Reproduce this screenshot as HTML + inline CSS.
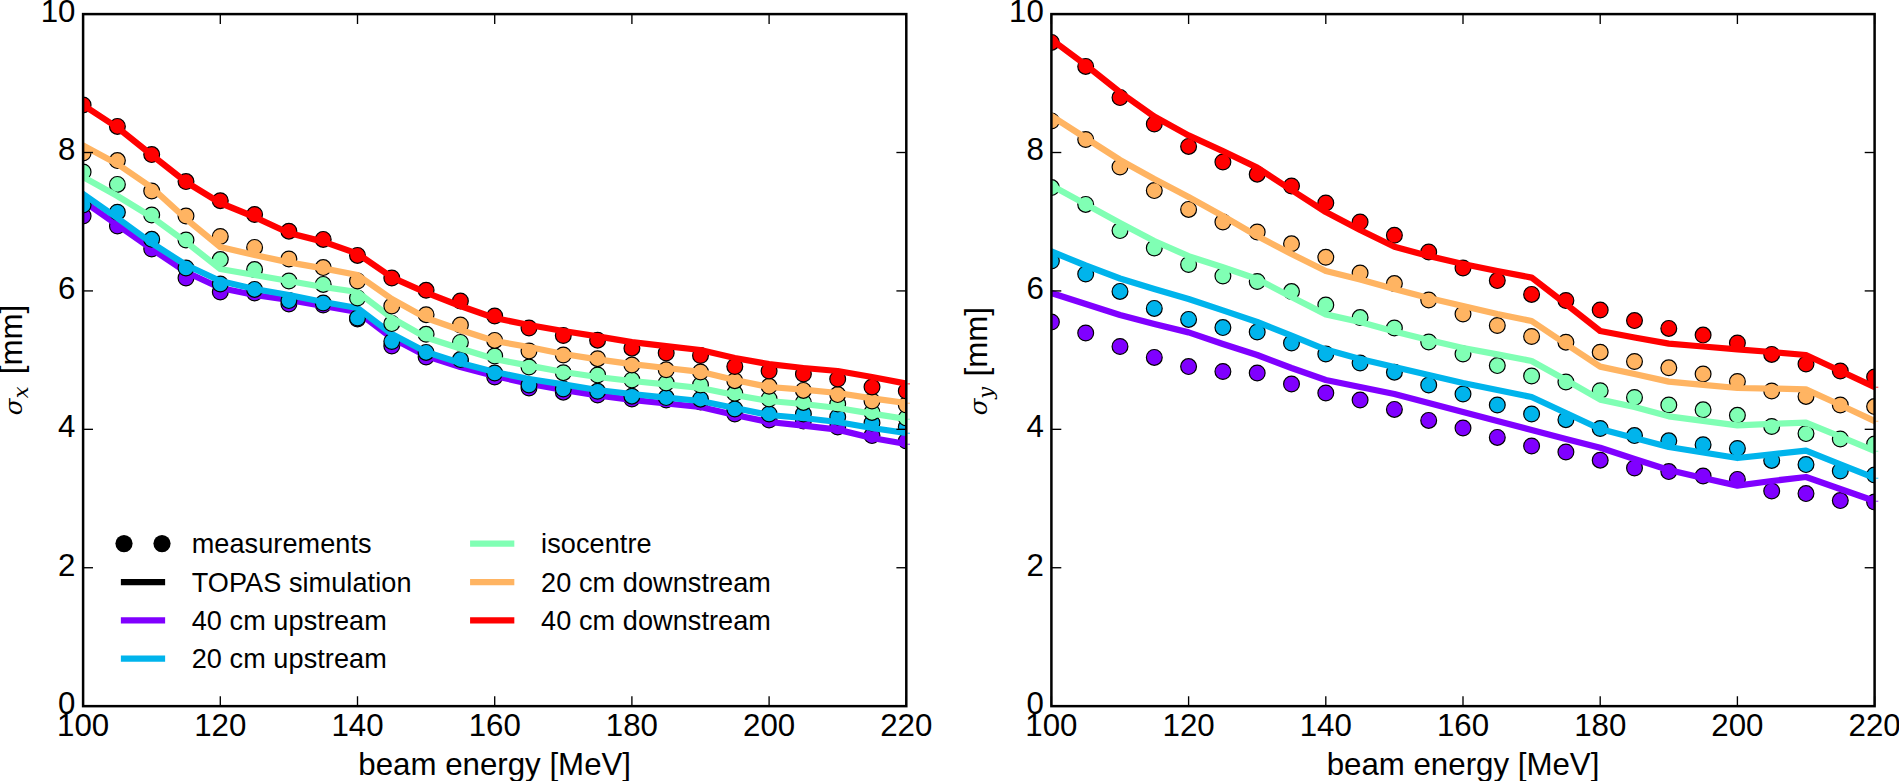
<!DOCTYPE html>
<html lang="en"><head><meta charset="utf-8"><title>Beam spot size vs beam energy</title>
<style>html,body{margin:0;padding:0;background:#fff}body{width:1899px;height:781px;overflow:hidden}svg{display:block}text{font-family:"Liberation Sans", Arial, Helvetica, sans-serif;fill:#000}.tk{font-size:31.25px}.lg{font-size:27.08px}.mt{font-family:"DejaVu Serif","Liberation Serif",serif;font-style:italic}.ms{font-family:"Liberation Serif","DejaVu Serif",serif;font-style:italic}</style></head><body>
<svg width="1899" height="781" viewBox="0 0 1899 781">
<rect width="1899" height="781" fill="#fff"/>
<defs>
<clipPath id="c0"><rect x="83.1" y="14.1" width="823.2" height="692.05"/></clipPath>
<clipPath id="c1"><rect x="1051.4" y="14.1" width="823.2" height="692.05"/></clipPath>
</defs>
<g clip-path="url(#c0)">
<g fill="#8000ff" stroke="#000" stroke-width="1.2">
<circle cx="83.1" cy="216" r="7.9"/>
<circle cx="117.4" cy="226" r="7.9"/>
<circle cx="151.7" cy="249" r="7.9"/>
<circle cx="186" cy="278" r="7.9"/>
<circle cx="220.3" cy="292" r="7.9"/>
<circle cx="254.6" cy="293" r="7.9"/>
<circle cx="288.9" cy="304" r="7.9"/>
<circle cx="323.2" cy="305" r="7.9"/>
<circle cx="357.5" cy="319" r="7.9"/>
<circle cx="391.8" cy="346" r="7.9"/>
<circle cx="426.1" cy="357" r="7.9"/>
<circle cx="460.4" cy="361" r="7.9"/>
<circle cx="494.7" cy="377" r="7.9"/>
<circle cx="529" cy="388" r="7.9"/>
<circle cx="563.3" cy="392.2" r="7.9"/>
<circle cx="597.6" cy="395" r="7.9"/>
<circle cx="631.9" cy="399" r="7.9"/>
<circle cx="666.2" cy="400" r="7.9"/>
<circle cx="700.5" cy="402" r="7.9"/>
<circle cx="734.8" cy="414" r="7.9"/>
<circle cx="769.1" cy="420" r="7.9"/>
<circle cx="803.4" cy="421" r="7.9"/>
<circle cx="837.7" cy="427" r="7.9"/>
<circle cx="872" cy="435.6" r="7.9"/>
<circle cx="906.3" cy="441" r="7.9"/>
</g>
<polyline points="83.1,201 117.4,225 151.7,249 186,272 220.3,288 254.6,295 288.9,300 323.2,306 357.5,312 391.8,338 426.1,356 460.4,367 494.7,376 529,383.6 563.3,390 597.6,395.3 631.9,399.8 666.2,403.5 700.5,407 734.8,415 769.1,422 803.4,425.6 837.7,429.6 872,438 906.3,444" fill="none" stroke="#8000ff" stroke-width="6.25" stroke-linejoin="round" stroke-linecap="square"/>
<g fill="#00b4ec" stroke="#000" stroke-width="1.2">
<circle cx="83.1" cy="205" r="7.9"/>
<circle cx="117.4" cy="212.2" r="7.9"/>
<circle cx="151.7" cy="239.3" r="7.9"/>
<circle cx="186" cy="268" r="7.9"/>
<circle cx="220.3" cy="284" r="7.9"/>
<circle cx="254.6" cy="289.4" r="7.9"/>
<circle cx="288.9" cy="300.6" r="7.9"/>
<circle cx="323.2" cy="303" r="7.9"/>
<circle cx="357.5" cy="318" r="7.9"/>
<circle cx="391.8" cy="341.5" r="7.9"/>
<circle cx="426.1" cy="352.4" r="7.9"/>
<circle cx="460.4" cy="359.6" r="7.9"/>
<circle cx="494.7" cy="373" r="7.9"/>
<circle cx="529" cy="385" r="7.9"/>
<circle cx="563.3" cy="389" r="7.9"/>
<circle cx="597.6" cy="391.3" r="7.9"/>
<circle cx="631.9" cy="396.2" r="7.9"/>
<circle cx="666.2" cy="397.6" r="7.9"/>
<circle cx="700.5" cy="399.2" r="7.9"/>
<circle cx="734.8" cy="409" r="7.9"/>
<circle cx="769.1" cy="414" r="7.9"/>
<circle cx="803.4" cy="414" r="7.9"/>
<circle cx="837.7" cy="417" r="7.9"/>
<circle cx="872" cy="423" r="7.9"/>
<circle cx="906.3" cy="427" r="7.9"/>
</g>
<polyline points="83.1,194 117.4,218 151.7,243 186,265 220.3,281 254.6,289 288.9,295 323.2,302 357.5,308 391.8,334 426.1,352 460.4,363 494.7,372 529,379 563.3,384.4 597.6,390 631.9,394 666.2,397.6 700.5,401 734.8,408 769.1,415 803.4,418 837.7,422 872,428 906.3,433" fill="none" stroke="#00b4ec" stroke-width="6.25" stroke-linejoin="round" stroke-linecap="square"/>
<g fill="#80ffb4" stroke="#000" stroke-width="1.2">
<circle cx="83.1" cy="172" r="7.9"/>
<circle cx="117.4" cy="184.4" r="7.9"/>
<circle cx="151.7" cy="215" r="7.9"/>
<circle cx="186" cy="240" r="7.9"/>
<circle cx="220.3" cy="259.6" r="7.9"/>
<circle cx="254.6" cy="269.6" r="7.9"/>
<circle cx="288.9" cy="281" r="7.9"/>
<circle cx="323.2" cy="284.4" r="7.9"/>
<circle cx="357.5" cy="298" r="7.9"/>
<circle cx="391.8" cy="323.6" r="7.9"/>
<circle cx="426.1" cy="334.3" r="7.9"/>
<circle cx="460.4" cy="342.4" r="7.9"/>
<circle cx="494.7" cy="356" r="7.9"/>
<circle cx="529" cy="367" r="7.9"/>
<circle cx="563.3" cy="372.7" r="7.9"/>
<circle cx="597.6" cy="375" r="7.9"/>
<circle cx="631.9" cy="380" r="7.9"/>
<circle cx="666.2" cy="383" r="7.9"/>
<circle cx="700.5" cy="385" r="7.9"/>
<circle cx="734.8" cy="393.3" r="7.9"/>
<circle cx="769.1" cy="399" r="7.9"/>
<circle cx="803.4" cy="402.4" r="7.9"/>
<circle cx="837.7" cy="404" r="7.9"/>
<circle cx="872" cy="412.4" r="7.9"/>
<circle cx="906.3" cy="418" r="7.9"/>
</g>
<polyline points="83.1,177 117.4,196 151.7,217 186,242 220.3,269 254.6,275 288.9,281 323.2,287 357.5,292 391.8,318 426.1,337.5 460.4,348.4 494.7,359 529,365.6 563.3,372 597.6,377 631.9,381 666.2,384.4 700.5,388 734.8,395 769.1,401 803.4,404 837.7,408 872,413.6 906.3,419" fill="none" stroke="#80ffb4" stroke-width="6.25" stroke-linejoin="round" stroke-linecap="square"/>
<g fill="#ffb462" stroke="#000" stroke-width="1.2">
<circle cx="83.1" cy="153" r="7.9"/>
<circle cx="117.4" cy="160.6" r="7.9"/>
<circle cx="151.7" cy="191" r="7.9"/>
<circle cx="186" cy="216" r="7.9"/>
<circle cx="220.3" cy="236.5" r="7.9"/>
<circle cx="254.6" cy="247.4" r="7.9"/>
<circle cx="288.9" cy="259" r="7.9"/>
<circle cx="323.2" cy="267.6" r="7.9"/>
<circle cx="357.5" cy="281" r="7.9"/>
<circle cx="391.8" cy="306" r="7.9"/>
<circle cx="426.1" cy="314.7" r="7.9"/>
<circle cx="460.4" cy="325" r="7.9"/>
<circle cx="494.7" cy="340.4" r="7.9"/>
<circle cx="529" cy="351" r="7.9"/>
<circle cx="563.3" cy="355" r="7.9"/>
<circle cx="597.6" cy="358.7" r="7.9"/>
<circle cx="631.9" cy="365" r="7.9"/>
<circle cx="666.2" cy="369.8" r="7.9"/>
<circle cx="700.5" cy="372" r="7.9"/>
<circle cx="734.8" cy="380.7" r="7.9"/>
<circle cx="769.1" cy="386.3" r="7.9"/>
<circle cx="803.4" cy="390.4" r="7.9"/>
<circle cx="837.7" cy="394.6" r="7.9"/>
<circle cx="872" cy="401" r="7.9"/>
<circle cx="906.3" cy="405" r="7.9"/>
</g>
<polyline points="83.1,145.6 117.4,164 151.7,187.5 186,218.8 220.3,247 254.6,255 288.9,262.4 323.2,268.4 357.5,275 391.8,299 426.1,318 460.4,330 494.7,341 529,347 563.3,354 597.6,359.3 631.9,364.2 666.2,368 700.5,371.8 734.8,380 769.1,387 803.4,389.6 837.7,393 872,398.4 906.3,403" fill="none" stroke="#ffb462" stroke-width="6.25" stroke-linejoin="round" stroke-linecap="square"/>
<g fill="#ff0000" stroke="#000" stroke-width="1.2">
<circle cx="83.1" cy="105" r="7.9"/>
<circle cx="117.4" cy="126.4" r="7.9"/>
<circle cx="151.7" cy="154.6" r="7.9"/>
<circle cx="186" cy="181.6" r="7.9"/>
<circle cx="220.3" cy="200.7" r="7.9"/>
<circle cx="254.6" cy="214.5" r="7.9"/>
<circle cx="288.9" cy="231.2" r="7.9"/>
<circle cx="323.2" cy="239.4" r="7.9"/>
<circle cx="357.5" cy="255.4" r="7.9"/>
<circle cx="391.8" cy="278" r="7.9"/>
<circle cx="426.1" cy="290.3" r="7.9"/>
<circle cx="460.4" cy="301" r="7.9"/>
<circle cx="494.7" cy="316" r="7.9"/>
<circle cx="529" cy="328" r="7.9"/>
<circle cx="563.3" cy="335.5" r="7.9"/>
<circle cx="597.6" cy="340.2" r="7.9"/>
<circle cx="631.9" cy="348.2" r="7.9"/>
<circle cx="666.2" cy="353" r="7.9"/>
<circle cx="700.5" cy="355.5" r="7.9"/>
<circle cx="734.8" cy="366.5" r="7.9"/>
<circle cx="769.1" cy="371" r="7.9"/>
<circle cx="803.4" cy="374" r="7.9"/>
<circle cx="837.7" cy="379" r="7.9"/>
<circle cx="872" cy="387" r="7.9"/>
<circle cx="906.3" cy="391" r="7.9"/>
</g>
<polyline points="83.1,105 117.4,127.5 151.7,155 186,182 220.3,203 254.6,217 288.9,233 323.2,241.6 357.5,253.6 391.8,277.3 426.1,292.6 460.4,306 494.7,318 529,325 563.3,331 597.6,336.4 631.9,342.2 666.2,346.2 700.5,350 734.8,358 769.1,364.2 803.4,368 837.7,371 872,377 906.3,383.6" fill="none" stroke="#ff0000" stroke-width="6.25" stroke-linejoin="round" stroke-linecap="square"/>
</g>
<rect x="907.4" y="443.7" width="2.6" height="1.1" fill="#8000ff" opacity="0.75"/>
<rect x="907.4" y="432.7" width="2.6" height="1.1" fill="#00b4ec" opacity="0.75"/>
<rect x="907.4" y="418.7" width="2.6" height="1.1" fill="#80ffb4" opacity="0.75"/>
<rect x="907.4" y="402.7" width="2.6" height="1.1" fill="#ffb462" opacity="0.75"/>
<rect x="907.4" y="383.3" width="2.6" height="1.1" fill="#ff0000" opacity="0.75"/>
<g stroke="#000" stroke-width="1.35">
<line x1="83.1" y1="706.15" x2="83.1" y2="696.25"/>
<line x1="83.1" y1="14.1" x2="83.1" y2="24"/>
<line x1="220.3" y1="706.15" x2="220.3" y2="696.25"/>
<line x1="220.3" y1="14.1" x2="220.3" y2="24"/>
<line x1="357.5" y1="706.15" x2="357.5" y2="696.25"/>
<line x1="357.5" y1="14.1" x2="357.5" y2="24"/>
<line x1="494.7" y1="706.15" x2="494.7" y2="696.25"/>
<line x1="494.7" y1="14.1" x2="494.7" y2="24"/>
<line x1="631.9" y1="706.15" x2="631.9" y2="696.25"/>
<line x1="631.9" y1="14.1" x2="631.9" y2="24"/>
<line x1="769.1" y1="706.15" x2="769.1" y2="696.25"/>
<line x1="769.1" y1="14.1" x2="769.1" y2="24"/>
<line x1="906.3" y1="706.15" x2="906.3" y2="696.25"/>
<line x1="906.3" y1="14.1" x2="906.3" y2="24"/>
<line x1="83.1" y1="706.15" x2="93" y2="706.15"/>
<line x1="906.3" y1="706.15" x2="896.4" y2="706.15"/>
<line x1="83.1" y1="567.74" x2="93" y2="567.74"/>
<line x1="906.3" y1="567.74" x2="896.4" y2="567.74"/>
<line x1="83.1" y1="429.33" x2="93" y2="429.33"/>
<line x1="906.3" y1="429.33" x2="896.4" y2="429.33"/>
<line x1="83.1" y1="290.92" x2="93" y2="290.92"/>
<line x1="906.3" y1="290.92" x2="896.4" y2="290.92"/>
<line x1="83.1" y1="152.51" x2="93" y2="152.51"/>
<line x1="906.3" y1="152.51" x2="896.4" y2="152.51"/>
<line x1="83.1" y1="14.1" x2="93" y2="14.1"/>
<line x1="906.3" y1="14.1" x2="896.4" y2="14.1"/>
</g>
<rect x="83.1" y="14.1" width="823.2" height="692.05" fill="none" stroke="#000" stroke-width="2.5"/>
<g class="tk" text-anchor="middle">
<text x="83.1" y="736.3">100</text>
<text x="220.3" y="736.3">120</text>
<text x="357.5" y="736.3">140</text>
<text x="494.7" y="736.3">160</text>
<text x="631.9" y="736.3">180</text>
<text x="769.1" y="736.3">200</text>
<text x="906.3" y="736.3">220</text>
</g>
<g class="tk" text-anchor="end">
<text x="75.5" y="713.95">0</text>
<text x="75.5" y="575.54">2</text>
<text x="75.5" y="437.13">4</text>
<text x="75.5" y="298.72">6</text>
<text x="75.5" y="160.31">8</text>
<text x="75.5" y="21.9">10</text>
</g>
<text class="tk" text-anchor="middle" x="494.7" y="774.7">beam energy [MeV]</text>
<text class="tk" transform="translate(22.2,374.3) rotate(-90)">[mm]</text>
<text class="mt" font-size="24.6" transform="translate(22.2,415.3) rotate(-90)">σ</text>
<text class="mt" font-size="21" transform="translate(28.2,398.2) rotate(-90)">x</text>
<g clip-path="url(#c1)">
<g fill="#8000ff" stroke="#000" stroke-width="1.2">
<circle cx="1051.4" cy="322" r="7.9"/>
<circle cx="1085.7" cy="333" r="7.9"/>
<circle cx="1120" cy="346.5" r="7.9"/>
<circle cx="1154.3" cy="357.4" r="7.9"/>
<circle cx="1188.6" cy="366.6" r="7.9"/>
<circle cx="1222.9" cy="371.5" r="7.9"/>
<circle cx="1257.2" cy="373" r="7.9"/>
<circle cx="1291.5" cy="384" r="7.9"/>
<circle cx="1325.8" cy="393" r="7.9"/>
<circle cx="1360.1" cy="400" r="7.9"/>
<circle cx="1394.4" cy="409.4" r="7.9"/>
<circle cx="1428.7" cy="420.4" r="7.9"/>
<circle cx="1463" cy="428" r="7.9"/>
<circle cx="1497.3" cy="437.4" r="7.9"/>
<circle cx="1531.6" cy="446" r="7.9"/>
<circle cx="1565.9" cy="452" r="7.9"/>
<circle cx="1600.2" cy="460.2" r="7.9"/>
<circle cx="1634.5" cy="468" r="7.9"/>
<circle cx="1668.8" cy="471.6" r="7.9"/>
<circle cx="1703.1" cy="476" r="7.9"/>
<circle cx="1737.4" cy="479.4" r="7.9"/>
<circle cx="1771.7" cy="491" r="7.9"/>
<circle cx="1806" cy="493.6" r="7.9"/>
<circle cx="1840.3" cy="500.6" r="7.9"/>
<circle cx="1874.6" cy="502" r="7.9"/>
</g>
<polyline points="1051.4,293 1085.7,304 1120,315 1154.3,324 1188.6,332.4 1222.9,344 1257.2,355 1291.5,368 1325.8,380 1360.1,387 1394.4,394 1428.7,403 1463,412 1497.3,421 1531.6,430 1565.9,439 1600.2,447.8 1634.5,459 1668.8,470 1703.1,478 1737.4,485.6 1771.7,481 1806,477 1840.3,489 1874.6,501" fill="none" stroke="#8000ff" stroke-width="6.25" stroke-linejoin="round" stroke-linecap="square"/>
<g fill="#00b4ec" stroke="#000" stroke-width="1.2">
<circle cx="1051.4" cy="261" r="7.9"/>
<circle cx="1085.7" cy="274" r="7.9"/>
<circle cx="1120" cy="291.4" r="7.9"/>
<circle cx="1154.3" cy="308.4" r="7.9"/>
<circle cx="1188.6" cy="319.4" r="7.9"/>
<circle cx="1222.9" cy="327.6" r="7.9"/>
<circle cx="1257.2" cy="332" r="7.9"/>
<circle cx="1291.5" cy="343" r="7.9"/>
<circle cx="1325.8" cy="354" r="7.9"/>
<circle cx="1360.1" cy="363" r="7.9"/>
<circle cx="1394.4" cy="372.2" r="7.9"/>
<circle cx="1428.7" cy="385" r="7.9"/>
<circle cx="1463" cy="394" r="7.9"/>
<circle cx="1497.3" cy="405" r="7.9"/>
<circle cx="1531.6" cy="414" r="7.9"/>
<circle cx="1565.9" cy="419.7" r="7.9"/>
<circle cx="1600.2" cy="428.5" r="7.9"/>
<circle cx="1634.5" cy="435.6" r="7.9"/>
<circle cx="1668.8" cy="440.8" r="7.9"/>
<circle cx="1703.1" cy="444.7" r="7.9"/>
<circle cx="1737.4" cy="448.5" r="7.9"/>
<circle cx="1771.7" cy="460.4" r="7.9"/>
<circle cx="1806" cy="464.6" r="7.9"/>
<circle cx="1840.3" cy="471" r="7.9"/>
<circle cx="1874.6" cy="475" r="7.9"/>
</g>
<polyline points="1051.4,251.5 1085.7,265.5 1120,278.5 1154.3,289 1188.6,299 1222.9,310.4 1257.2,322 1291.5,335.6 1325.8,349.6 1360.1,359 1394.4,367 1428.7,375 1463,383 1497.3,390 1531.6,397 1565.9,413 1600.2,429 1634.5,438 1668.8,447 1703.1,452.5 1737.4,458 1771.7,454.4 1806,450.6 1840.3,464.4 1874.6,478" fill="none" stroke="#00b4ec" stroke-width="6.25" stroke-linejoin="round" stroke-linecap="square"/>
<g fill="#80ffb4" stroke="#000" stroke-width="1.2">
<circle cx="1051.4" cy="187.6" r="7.9"/>
<circle cx="1085.7" cy="204.4" r="7.9"/>
<circle cx="1120" cy="230.6" r="7.9"/>
<circle cx="1154.3" cy="248" r="7.9"/>
<circle cx="1188.6" cy="264.5" r="7.9"/>
<circle cx="1222.9" cy="276" r="7.9"/>
<circle cx="1257.2" cy="281.5" r="7.9"/>
<circle cx="1291.5" cy="291.6" r="7.9"/>
<circle cx="1325.8" cy="305" r="7.9"/>
<circle cx="1360.1" cy="317.6" r="7.9"/>
<circle cx="1394.4" cy="328" r="7.9"/>
<circle cx="1428.7" cy="342" r="7.9"/>
<circle cx="1463" cy="354" r="7.9"/>
<circle cx="1497.3" cy="365.6" r="7.9"/>
<circle cx="1531.6" cy="376" r="7.9"/>
<circle cx="1565.9" cy="382" r="7.9"/>
<circle cx="1600.2" cy="390.7" r="7.9"/>
<circle cx="1634.5" cy="397.5" r="7.9"/>
<circle cx="1668.8" cy="405" r="7.9"/>
<circle cx="1703.1" cy="409.8" r="7.9"/>
<circle cx="1737.4" cy="415.3" r="7.9"/>
<circle cx="1771.7" cy="426.5" r="7.9"/>
<circle cx="1806" cy="433.6" r="7.9"/>
<circle cx="1840.3" cy="439" r="7.9"/>
<circle cx="1874.6" cy="444" r="7.9"/>
</g>
<polyline points="1051.4,185.5 1085.7,204.2 1120,223 1154.3,241 1188.6,256.2 1222.9,267.2 1257.2,279 1291.5,297 1325.8,314.4 1360.1,322 1394.4,331.5 1428.7,340 1463,348 1497.3,354.4 1531.6,361 1565.9,380 1600.2,399.6 1634.5,407 1668.8,416.3 1703.1,420.8 1737.4,425.3 1771.7,423.9 1806,422.7 1840.3,436.7 1874.6,451" fill="none" stroke="#80ffb4" stroke-width="6.25" stroke-linejoin="round" stroke-linecap="square"/>
<g fill="#ffb462" stroke="#000" stroke-width="1.2">
<circle cx="1051.4" cy="121" r="7.9"/>
<circle cx="1085.7" cy="139.5" r="7.9"/>
<circle cx="1120" cy="167" r="7.9"/>
<circle cx="1154.3" cy="190.6" r="7.9"/>
<circle cx="1188.6" cy="209.4" r="7.9"/>
<circle cx="1222.9" cy="222" r="7.9"/>
<circle cx="1257.2" cy="232" r="7.9"/>
<circle cx="1291.5" cy="243.8" r="7.9"/>
<circle cx="1325.8" cy="257.3" r="7.9"/>
<circle cx="1360.1" cy="273" r="7.9"/>
<circle cx="1394.4" cy="283.6" r="7.9"/>
<circle cx="1428.7" cy="300" r="7.9"/>
<circle cx="1463" cy="314" r="7.9"/>
<circle cx="1497.3" cy="325.5" r="7.9"/>
<circle cx="1531.6" cy="336.5" r="7.9"/>
<circle cx="1565.9" cy="342.2" r="7.9"/>
<circle cx="1600.2" cy="352.2" r="7.9"/>
<circle cx="1634.5" cy="361.5" r="7.9"/>
<circle cx="1668.8" cy="367.8" r="7.9"/>
<circle cx="1703.1" cy="374" r="7.9"/>
<circle cx="1737.4" cy="381.5" r="7.9"/>
<circle cx="1771.7" cy="391" r="7.9"/>
<circle cx="1806" cy="396.4" r="7.9"/>
<circle cx="1840.3" cy="405" r="7.9"/>
<circle cx="1874.6" cy="406.6" r="7.9"/>
</g>
<polyline points="1051.4,116 1085.7,138 1120,160 1154.3,179 1188.6,197 1222.9,216 1257.2,236 1291.5,254 1325.8,271 1360.1,279.5 1394.4,289 1428.7,298 1463,306 1497.3,314 1531.6,321 1565.9,344 1600.2,366.6 1634.5,374 1668.8,381.6 1703.1,384.8 1737.4,388 1771.7,388.6 1806,389.4 1840.3,405 1874.6,421" fill="none" stroke="#ffb462" stroke-width="6.25" stroke-linejoin="round" stroke-linecap="square"/>
<g fill="#ff0000" stroke="#000" stroke-width="1.2">
<circle cx="1051.4" cy="42.4" r="7.9"/>
<circle cx="1085.7" cy="66.4" r="7.9"/>
<circle cx="1120" cy="97.6" r="7.9"/>
<circle cx="1154.3" cy="124" r="7.9"/>
<circle cx="1188.6" cy="146.4" r="7.9"/>
<circle cx="1222.9" cy="162" r="7.9"/>
<circle cx="1257.2" cy="174.2" r="7.9"/>
<circle cx="1291.5" cy="186" r="7.9"/>
<circle cx="1325.8" cy="203" r="7.9"/>
<circle cx="1360.1" cy="222" r="7.9"/>
<circle cx="1394.4" cy="235.3" r="7.9"/>
<circle cx="1428.7" cy="252" r="7.9"/>
<circle cx="1463" cy="268" r="7.9"/>
<circle cx="1497.3" cy="280.6" r="7.9"/>
<circle cx="1531.6" cy="294.4" r="7.9"/>
<circle cx="1565.9" cy="300.5" r="7.9"/>
<circle cx="1600.2" cy="310" r="7.9"/>
<circle cx="1634.5" cy="320.6" r="7.9"/>
<circle cx="1668.8" cy="328.4" r="7.9"/>
<circle cx="1703.1" cy="335.1" r="7.9"/>
<circle cx="1737.4" cy="343" r="7.9"/>
<circle cx="1771.7" cy="354.4" r="7.9"/>
<circle cx="1806" cy="364" r="7.9"/>
<circle cx="1840.3" cy="371" r="7.9"/>
<circle cx="1874.6" cy="377" r="7.9"/>
</g>
<polyline points="1051.4,39.5 1085.7,65 1120,92.2 1154.3,116.6 1188.6,135.4 1222.9,151.2 1257.2,167.6 1291.5,190 1325.8,212 1360.1,230 1394.4,246.8 1428.7,256 1463,264 1497.3,271 1531.6,277.6 1565.9,304 1600.2,331 1634.5,337.5 1668.8,343.6 1703.1,346.5 1737.4,349.3 1771.7,352 1806,355 1840.3,371 1874.6,387" fill="none" stroke="#ff0000" stroke-width="6.25" stroke-linejoin="round" stroke-linecap="square"/>
</g>
<rect x="1875.7" y="500.7" width="2.6" height="1.1" fill="#8000ff" opacity="0.75"/>
<rect x="1875.7" y="477.7" width="2.6" height="1.1" fill="#00b4ec" opacity="0.75"/>
<rect x="1875.7" y="450.7" width="2.6" height="1.1" fill="#80ffb4" opacity="0.75"/>
<rect x="1875.7" y="420.7" width="2.6" height="1.1" fill="#ffb462" opacity="0.75"/>
<rect x="1875.7" y="386.7" width="2.6" height="1.1" fill="#ff0000" opacity="0.75"/>
<g stroke="#000" stroke-width="1.35">
<line x1="1051.4" y1="706.15" x2="1051.4" y2="696.25"/>
<line x1="1051.4" y1="14.1" x2="1051.4" y2="24"/>
<line x1="1188.6" y1="706.15" x2="1188.6" y2="696.25"/>
<line x1="1188.6" y1="14.1" x2="1188.6" y2="24"/>
<line x1="1325.8" y1="706.15" x2="1325.8" y2="696.25"/>
<line x1="1325.8" y1="14.1" x2="1325.8" y2="24"/>
<line x1="1463" y1="706.15" x2="1463" y2="696.25"/>
<line x1="1463" y1="14.1" x2="1463" y2="24"/>
<line x1="1600.2" y1="706.15" x2="1600.2" y2="696.25"/>
<line x1="1600.2" y1="14.1" x2="1600.2" y2="24"/>
<line x1="1737.4" y1="706.15" x2="1737.4" y2="696.25"/>
<line x1="1737.4" y1="14.1" x2="1737.4" y2="24"/>
<line x1="1874.6" y1="706.15" x2="1874.6" y2="696.25"/>
<line x1="1874.6" y1="14.1" x2="1874.6" y2="24"/>
<line x1="1051.4" y1="706.15" x2="1061.3" y2="706.15"/>
<line x1="1874.6" y1="706.15" x2="1864.7" y2="706.15"/>
<line x1="1051.4" y1="567.74" x2="1061.3" y2="567.74"/>
<line x1="1874.6" y1="567.74" x2="1864.7" y2="567.74"/>
<line x1="1051.4" y1="429.33" x2="1061.3" y2="429.33"/>
<line x1="1874.6" y1="429.33" x2="1864.7" y2="429.33"/>
<line x1="1051.4" y1="290.92" x2="1061.3" y2="290.92"/>
<line x1="1874.6" y1="290.92" x2="1864.7" y2="290.92"/>
<line x1="1051.4" y1="152.51" x2="1061.3" y2="152.51"/>
<line x1="1874.6" y1="152.51" x2="1864.7" y2="152.51"/>
<line x1="1051.4" y1="14.1" x2="1061.3" y2="14.1"/>
<line x1="1874.6" y1="14.1" x2="1864.7" y2="14.1"/>
</g>
<rect x="1051.4" y="14.1" width="823.2" height="692.05" fill="none" stroke="#000" stroke-width="2.5"/>
<g class="tk" text-anchor="middle">
<text x="1051.4" y="736.3">100</text>
<text x="1188.6" y="736.3">120</text>
<text x="1325.8" y="736.3">140</text>
<text x="1463" y="736.3">160</text>
<text x="1600.2" y="736.3">180</text>
<text x="1737.4" y="736.3">200</text>
<text x="1874.6" y="736.3">220</text>
</g>
<g class="tk" text-anchor="end">
<text x="1043.8" y="713.95">0</text>
<text x="1043.8" y="575.54">2</text>
<text x="1043.8" y="437.13">4</text>
<text x="1043.8" y="298.72">6</text>
<text x="1043.8" y="160.31">8</text>
<text x="1043.8" y="21.9">10</text>
</g>
<text class="tk" text-anchor="middle" x="1463" y="774.7">beam energy [MeV]</text>
<text class="tk" transform="translate(986.6,376.4) rotate(-90)">[mm]</text>
<text class="mt" font-size="24.6" transform="translate(986.6,415.3) rotate(-90)">σ</text>
<text class="mt" font-size="21" transform="translate(992.6,398.8) rotate(-90)">y</text>
<g>
<circle cx="124" cy="543.6" r="8.6" fill="#000"/><circle cx="162" cy="543.6" r="8.6" fill="#000"/>
<line x1="124" y1="582" x2="162" y2="582" stroke="#000" stroke-width="6.25" stroke-linecap="square"/>
<line x1="124" y1="620.4" x2="162" y2="620.4" stroke="#8000ff" stroke-width="6.25" stroke-linecap="square"/>
<line x1="124" y1="658.7" x2="162" y2="658.7" stroke="#00b4ec" stroke-width="6.25" stroke-linecap="square"/>
<line x1="473.2" y1="543.6" x2="511.2" y2="543.6" stroke="#80ffb4" stroke-width="6.25" stroke-linecap="square"/>
<line x1="473.2" y1="582" x2="511.2" y2="582" stroke="#ffb462" stroke-width="6.25" stroke-linecap="square"/>
<line x1="473.2" y1="620.4" x2="511.2" y2="620.4" stroke="#ff0000" stroke-width="6.25" stroke-linecap="square"/>
</g>
<g class="lg" letter-spacing="0.07">
<text x="191.7" y="553.1">measurements</text>
<text x="191.7" y="591.5">TOPAS simulation</text>
<text x="191.7" y="629.9">40 cm upstream</text>
<text x="191.7" y="668.2">20 cm upstream</text>
<text x="541.1" y="553.1">isocentre</text>
<text x="541.1" y="591.5">20 cm downstream</text>
<text x="541.1" y="629.9">40 cm downstream</text>
</g>
</svg></body></html>
